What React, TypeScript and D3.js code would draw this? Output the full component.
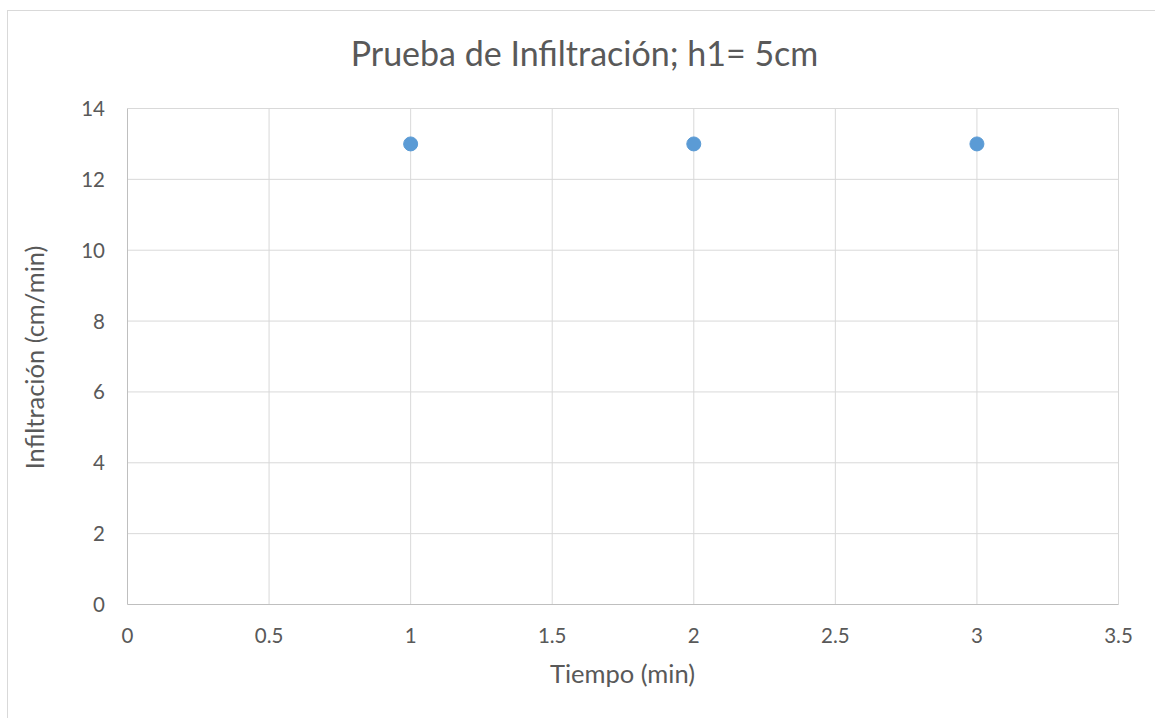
import React, { useEffect, useRef } from "react";
import * as d3 from "d3";

const xValues = [1, 2, 3];
const yValues = [13, 13, 13];
const xTicks = [0, 0.5, 1, 1.5, 2, 2.5, 3, 3.5];
const yTicks = [0, 2, 4, 6, 8, 10, 12, 14];
const title = "Prueba de Infiltración; h1= 5cm";
const xTitle = "Tiempo (min)";
const yTitle = "Infiltración (cm/min)";

const W = 1155;
const H = 718;
const M = { left: 127.5, right: 1118.5, top: 108.5, bottom: 604.5 };
const FONT = "Lato, 'Liberation Sans', sans-serif";

export default function App() {
  const ref = useRef<SVGSVGElement>(null);
  useEffect(() => {
    const svg = d3.select(ref.current);
    svg.selectAll("*").remove();
    const x = d3.scaleLinear().domain([0, 3.5]).range([M.left, M.right]);
    const y = d3.scaleLinear().domain([0, 14]).range([M.bottom, M.top]);

    svg.append("rect").attr("x", 0).attr("y", 0).attr("width", W).attr("height", H).attr("fill", "#fff");
    svg.append("rect").attr("x", 7.5).attr("y", 10.5).attr("width", W + 10).attr("height", H + 10)
      .attr("fill", "none").attr("stroke", "#d9d9d9").attr("stroke-width", 1);

    const g = svg.append("g");
    g.selectAll("line.hg").data(yTicks.filter(d => d > 0)).enter().append("line")
      .attr("x1", M.left).attr("x2", M.right).attr("y1", d => y(d)).attr("y2", d => y(d))
      .attr("stroke", "#d9d9d9").attr("stroke-width", 1);
    g.selectAll("line.vg").data(xTicks.filter(d => d > 0)).enter().append("line")
      .attr("y1", M.top).attr("y2", M.bottom).attr("x1", d => x(d)).attr("x2", d => x(d))
      .attr("stroke", "#d9d9d9").attr("stroke-width", 1);
    g.append("line").attr("x1", M.left).attr("x2", M.right).attr("y1", y(0)).attr("y2", y(0))
      .attr("stroke", "#bfbfbf");
    g.append("line").attr("x1", x(0)).attr("x2", x(0)).attr("y1", M.top).attr("y2", M.bottom)
      .attr("stroke", "#bfbfbf");

    g.selectAll("text.xt").data(xTicks).enter().append("text")
      .attr("x", d => x(d)).attr("y", 643).attr("text-anchor", "middle")
      .attr("font-family", FONT).attr("font-size", 20.5).attr("fill", "#595959")
      .text(d => String(d));
    g.selectAll("text.yt").data(yTicks).enter().append("text")
      .attr("x", 105).attr("y", d => y(d) + 7.5).attr("text-anchor", "end")
      .attr("font-family", FONT).attr("font-size", 20.5).attr("fill", "#595959")
      .text(d => String(d));

    svg.append("text").attr("x", 584.5).attr("y", 66).attr("text-anchor", "middle")
      .attr("font-family", FONT).attr("font-size", 34).attr("fill", "#595959").text(title);
    svg.append("text").attr("x", 622.5).attr("y", 683).attr("text-anchor", "middle")
      .attr("font-family", FONT).attr("font-size", 25.5).attr("fill", "#595959").text(xTitle);
    svg.append("text").attr("transform", `translate(44,${357.5}) rotate(-90)`).attr("text-anchor", "middle")
      .attr("font-family", FONT).attr("font-size", 25.5).attr("fill", "#595959").text(yTitle);

    svg.selectAll("circle.pt").data(xValues.map((v, i) => [v, yValues[i]])).enter().append("circle")
      .attr("cx", d => x(d[0])).attr("cy", d => y(d[1])).attr("r", 7)
      .attr("fill", "#5b9bd5").attr("stroke", "#5b9bd5").attr("stroke-width", 1);
  }, []);
  return <svg ref={ref} width={W} height={H} style={{ display: "block", position: "absolute", left: 0, top: 0 }} />;
}
